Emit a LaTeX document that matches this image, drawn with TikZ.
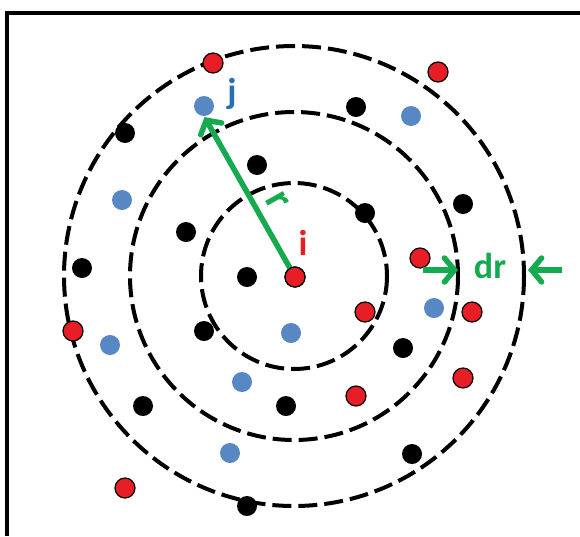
\documentclass[tikz,border=0pt]{standalone}
\usepackage{fontspec}
\setmainfont{Carlito}
\usetikzlibrary{arrows.meta}
\definecolor{dotred}{RGB}{232,30,38}
\definecolor{dotblue}{RGB}{88,136,196}
\definecolor{lblblue}{RGB}{40,110,180}
\definecolor{arrgreen}{RGB}{22,170,80}
\tikzset{
  ring/.style={draw=black, line width=4pt, dash pattern=on 19pt off 7pt},
  rdot/.style={circle, fill=dotred, draw=black, line width=1.2pt, minimum size=20pt, inner sep=0pt},
  bdot/.style={circle, fill=black, minimum size=20pt, inner sep=0pt},
  udot/.style={circle, fill=dotblue, minimum size=20pt, inner sep=0pt},
  garrow/.style={draw=arrgreen, line width=5.5pt, -{Straight Barb[length=10pt,width=24pt,line width=5.5pt,line cap=round]}},
  lbl/.style={font=\bfseries\fontsize{36}{36}\selectfont, inner sep=0pt}
}
\begin{document}
\begin{tikzpicture}[x=1pt,y=-1pt]
\useasboundingbox (0,0) rectangle (580,536);
\fill[white] (0,0) rectangle (580,536);
% frame
\draw[line width=3.5pt] (7,536) -- (7,13) -- (580,13);
% rings
\coordinate (c) at (294,276);
\draw[ring] (c) circle (93);
\draw[ring] (c) circle (164);
\draw[ring] (c) circle (230);
% red dots
\node[rdot] (r1) at (213,63) {};
\node[rdot] (r2) at (438,72) {};
\node[rdot] (r3) at (420,258) {};
\node[rdot] (r4) at (365,312) {};
\node[rdot] (r5) at (472,312) {};
\node[rdot] (r6) at (73,331) {};
\node[rdot] (r7) at (463,378) {};
\node[rdot] (r8) at (356,396) {};
\node[rdot] (r9) at (125,488) {};
% black dots
\node[bdot] (k1) at (125,133) {};
\node[bdot] (k2) at (356,107) {};
\node[bdot] (k3) at (257,165) {};
\node[bdot] (k4) at (463,204) {};
\node[bdot] (k5) at (365,213) {};
\node[bdot] (k6) at (186,232) {};
\node[bdot] (k7) at (82,268) {};
\node[bdot] (k8) at (247,277) {};
\node[bdot] (k9) at (204,331) {};
\node[bdot] (k10) at (403,348) {};
\node[bdot] (k11) at (143,406) {};
\node[bdot] (k12) at (286,406) {};
\node[bdot] (k13) at (412,454) {};
\node[bdot] (k14) at (247,506) {};
% blue dots
\node[udot] (j) at (204,106) {};
\node[udot] (u2) at (411,116) {};
\node[udot] (u3) at (122,200) {};
\node[udot] (u4) at (434,308) {};
\node[udot] (u5) at (291,333) {};
\node[udot] (u6) at (110,345) {};
\node[udot] (u7) at (242,382) {};
\node[udot] (u8) at (230,453) {};
% r arrow
\node[rdot] (i) at (295,277) {};
\draw[garrow, shorten >=1pt] (i.center) -- (j.south);
\node[rdot] at (295,277) {};
\node[text=arrgreen, rotate=-61, inner sep=0pt, font=\bfseries\fontsize{42}{42}\selectfont] (rl) at (277,201) {r};
% labels
\node[lbl, text=lblblue] (jl) at (232,94) {j};
\node[lbl, text=dotred] (il) at (303,243) {i};
\node[lbl, text=arrgreen] (drl) at (490,266) {dr};
% dr arrows
\coordinate (a1) at (423,270);
\coordinate (a2) at (458,270);
\coordinate (b1) at (562,270);
\coordinate (b2) at (528,270);
\draw[garrow] (a1) -- (a2);
\draw[garrow] (b1) -- (b2);
\end{tikzpicture}
\end{document}
